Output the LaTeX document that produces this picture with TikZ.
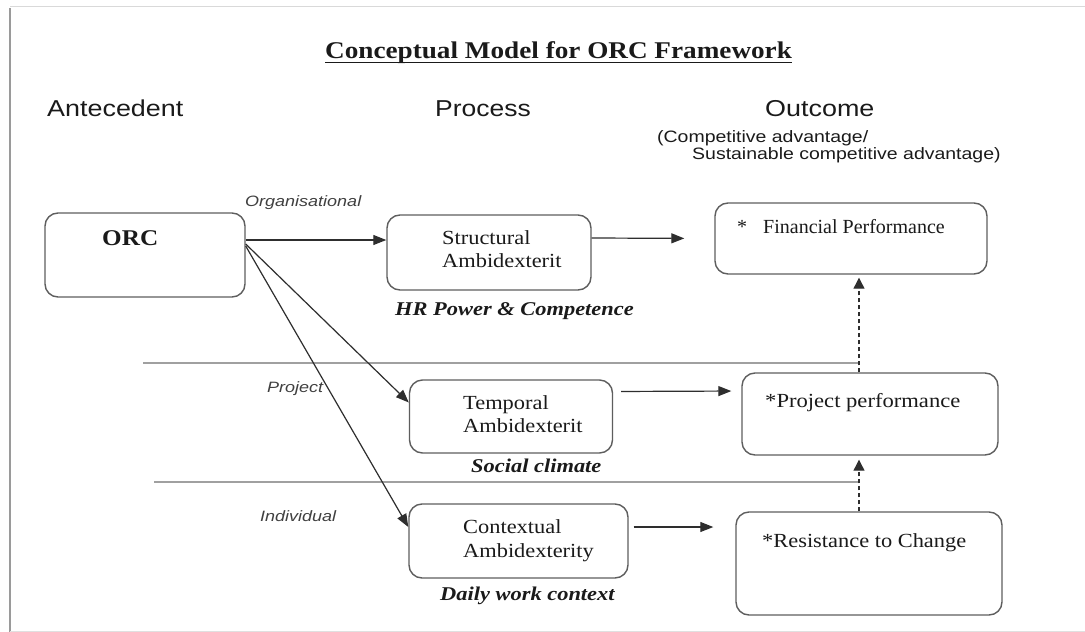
\documentclass[tikz,border=0pt]{standalone}
\usepackage{fontspec}
\setmainfont{Liberation Serif}
\setsansfont{Liberation Sans}
\usepackage{graphicx}
\usetikzlibrary{arrows.meta}
\definecolor{boxgray}{HTML}{5E5E5E}
\definecolor{arrgray}{HTML}{2E2E2E}
\definecolor{sepgray}{HTML}{A0A0A0}
\definecolor{framegray}{HTML}{9A9A9A}
\definecolor{txtcol}{HTML}{1A1A1A}
\newcommand{\xs}[2]{\scalebox{#1}[1]{#2}}
\begin{document}
\begin{tikzpicture}[x=1pt,y=-1pt,
  box/.style={draw=boxgray, line width=1.4pt, rounded corners=13pt, inner sep=0pt},
  txt/.style={inner sep=0pt, anchor=base west, text=txtcol},
  arr/.style={draw=arrgray, line width=1.2pt, -{Triangle[length=13pt,width=10pt]}},
  darr/.style={draw=arrgray, line width=1.2pt, dash pattern=on 4pt off 3pt, -{Triangle[length=11pt,width=11pt]}},
  sepline/.style={draw=sepgray, line width=1.4pt},
  boxtxt/.style={txt, font=\fontsize{20}{24}\selectfont},
  undertxt/.style={txt, font=\fontsize{19.5}{23}\selectfont\bfseries\itshape},
  head/.style={txt, font=\sffamily\fontsize{23}{27}\selectfont},
  level/.style={txt, font=\sffamily\itshape\fontsize{15}{18}\selectfont, text=black!75},
]
\useasboundingbox (0,0) rectangle (1085,632);
\fill[white] (0,0) rectangle (1085,632);
% frame
\draw[framegray, line width=2pt] (10,8) -- (10,632);
\draw[black!15, line width=1pt] (10,6.5) -- (1085,6.5);
\draw[black!12, line width=1pt] (10,631) -- (1085,631);

% title
\node[txt, font=\fontsize{24}{28}\selectfont\bfseries] (title) at (325,58) {\xs{1.133}{Conceptual Model for ORC Framework}};
\draw[txtcol, line width=1.6pt] ([yshift=-4.5pt]title.base west) -- ([yshift=-4.5pt]title.base east);

% headers
\node[head] (hant) at (47,116) {\xs{1.17}{Antecedent}};
\node[head] (hpro) at (435,116) {\xs{1.15}{Process}};
\node[head] (hout) at (765,116) {\xs{1.17}{Outcome}};
\node[txt, font=\sffamily\fontsize{16.5}{20}\selectfont] (hout2) at (657,142) {\xs{1.18}{(Competitive advantage/}};
\node[txt, font=\sffamily\fontsize{16.5}{20}\selectfont] (hout3) at (692,159) {\xs{1.18}{Sustainable competitive advantage)}};

% level labels
\node[level] (lorg) at (245,206) {\xs{1.2}{Organisational}};
\node[level] (lproj) at (267,392) {\xs{1.2}{Project}};
\node[level] (lind) at (260,521) {\xs{1.2}{Individual}};

% separator lines
\coordinate (dx) at (859,0);
\draw[sepline] (143,363) -- (dx |- 0,363);
\draw[sepline] (154,482) -- (dx |- 0,482);

% boxes
\node[box, minimum width=200pt, minimum height=84pt] (orc) at (145,255) {};
\node[box, minimum width=204pt, minimum height=75pt] (str) at (489,252.5) {};
\node[box, minimum width=203pt, minimum height=73pt] (tmp) at (511,416.5) {};
\node[box, minimum width=219pt, minimum height=74pt] (ctx) at (518.5,541) {};
\node[box, minimum width=272pt, minimum height=71pt] (fin) at (851,238.5) {};
\node[box, minimum width=256pt, minimum height=82pt] (proj) at (870,414) {};
\node[box, minimum width=266pt, minimum height=103pt] (res) at (869,563.5) {};

% box texts
\node[txt, font=\fontsize{22.5}{26}\selectfont\bfseries] (torc) at (102,245) {\xs{1.12}{ORC}};
\node[boxtxt] (tstr1) at (442,244) {\xs{1.12}{Structural}};
\node[boxtxt] (tstr2) at (442,267) {\xs{1.12}{Ambidexterit}};
\node[boxtxt] (ttmp1) at (463,409) {\xs{1.12}{Temporal}};
\node[boxtxt] (ttmp2) at (463,432) {\xs{1.12}{Ambidexterit}};
\node[boxtxt] (tctx1) at (463,533) {\xs{1.12}{Contextual}};
\node[boxtxt] (tctx2) at (463,557) {\xs{1.12}{Ambidexterity}};
\node[boxtxt] (tfin0) at (737,233) {*};
\node[boxtxt] (tfin) at (763,233) {Financial Performance};
\node[boxtxt] (tproj) at (765,407) {\xs{1.13}{*Project performance}};
\node[boxtxt] (tres) at (762,547) {\xs{1.12}{*Resistance to Change}};

% under labels
\node[undertxt] (ustr) at (395,315) {\xs{1.15}{HR Power \& Competence}};
\node[undertxt] (utmp) at (471,472) {\xs{1.15}{Social climate}};
\node[undertxt] (uctx) at (440,600) {\xs{1.15}{Daily work context}};

% arrows
\draw[arr] ([yshift=15pt]orc.east) -- ([yshift=12.5pt]str.west);
\draw[arr, shorten >=30pt] ([yshift=14.5pt]str.east) -- (fin.west);
\draw[arr] ([yshift=11pt]orc.east) -- ([yshift=14pt]tmp.west);
\draw[arr] ([yshift=9pt]orc.east) -- ([yshift=14pt]ctx.west);
\draw[arr, shorten <=8pt, shorten >=10pt] ([yshift=25pt]tmp.east) -- ([yshift=23pt]proj.west);
\draw[arr, shorten <=5pt, shorten >=22pt] ([yshift=14pt]ctx.east) -- ([yshift=36.5pt]res.west);
\draw[darr, shorten >=3pt] (proj.north -| dx) -- (fin.south -| dx);
\draw[darr, shorten >=4pt] (res.north -| dx) -- (proj.south -| dx);
\end{tikzpicture}
\end{document}
